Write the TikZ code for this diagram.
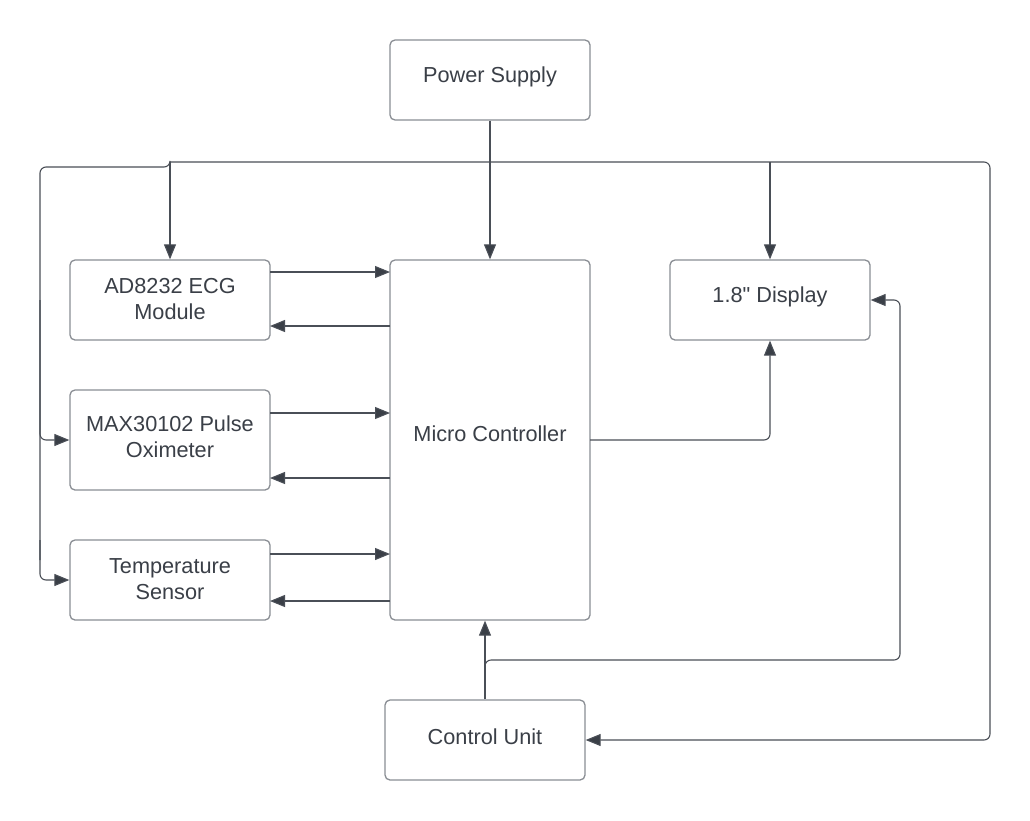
\documentclass[tikz,border=0pt]{standalone}
\usepackage{fontspec}
\newfontfamily\libsans{Liberation Sans}
\usetikzlibrary{arrows.meta}
\definecolor{boxline}{HTML}{8A8E94}
\definecolor{conn}{HTML}{4A4F57}
\definecolor{tip}{HTML}{3A3F47}
\definecolor{txt}{HTML}{3A3F47}
\tikzset{
  blk/.style={draw=boxline, line width=1.3pt, rounded corners=5pt, fill=white, inner sep=0pt},
  lbl/.style={text=txt, font=\libsans\fontsize{21.7}{26}\selectfont, align=center, inner sep=0pt},
  wire/.style={draw=conn, line width=1.1pt, rounded corners=6pt},
  arr/.style={wire, -{Triangle[length=15pt,width=12pt,fill=tip]}}
}
\begin{document}
\begin{tikzpicture}[x=1pt,y=-1pt]
\useasboundingbox[fill=white] (0,0) rectangle (1030,820);
% boxes
\node[blk, minimum width=200pt, minimum height=80pt] (ps) at (490,80) {};
\node[lbl] (pst) at (490,77) {Power Supply};
\node[blk, minimum width=200pt, minimum height=360pt] (mc) at (490,440) {};
\node[lbl] (mct) at (490,434) {Micro Controller};
\node[blk, minimum width=200pt, minimum height=80pt] (ecg) at (170,300) {};
\node[lbl] (ecgt) at (170,299) {AD8232 ECG\\Module};
\node[blk, minimum width=200pt, minimum height=100pt] (max) at (170,440) {};
\node[lbl] (maxt) at (170,437) {MAX30102 Pulse\\Oximeter};
\node[blk, minimum width=200pt, minimum height=80pt] (tmp) at (170,580) {};
\node[lbl] (tmpt) at (170,579) {Temperature\\Sensor};
\node[blk, minimum width=200pt, minimum height=80pt] (disp) at (770,300) {};
\node[lbl] (dispt) at (770,297) {1.8" Display};
\node[blk, minimum width=200pt, minimum height=80pt] (cu) at (485,740) {};
\node[lbl] (cut) at (485,737) {Control Unit};
% coordinates
\coordinate (j1) at (170,162);
\coordinate (j2) at (170,167);
\coordinate (j3) at (770,162);
% power supply to MC
\draw[arr] (ps.south) -- (mc.north);
% bus
\draw[arr] (j1) -- (ecg.north);
\draw[arr] (j3) -- (disp.north);
\draw[arr] (j1) -- (990,162) -- (990,740) -- (cu.east);
\draw[wire] (j1) |- (j2) -- (40,167) -- (40,560);
\draw[arr] (40,300) |- (max.west);
\draw[arr] (40,540) |- (tmp.west);
% sensors <-> MC
\draw[arr] (270,272) -- (390,272);
\draw[arr] (390,326) -- (270,326);
\draw[arr] (270,413) -- (390,413);
\draw[arr] (390,478) -- (270,478);
\draw[arr] (270,554) -- (390,554);
\draw[arr] (390,601) -- (270,601);
% MC -> display
\draw[arr] (590,440) -| (disp.south);
% control unit
\draw[arr] (cu.north) -- (cu.north |- mc.south);
\draw[arr] (485,672) |- (900,660) -- (900,300) -- (disp.east);
\end{tikzpicture}
\end{document}
